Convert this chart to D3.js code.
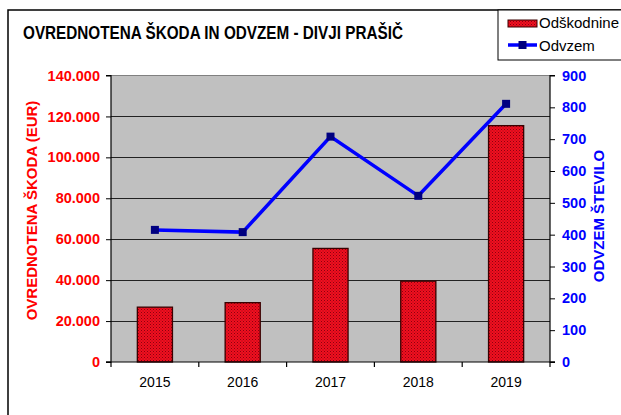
<!DOCTYPE html>
<html><head><meta charset="utf-8">
<script src="https://cdn.jsdelivr.net/npm/d3@7"></script>
<style>html,body{margin:0;padding:0;background:#fff;}svg{display:block;}</style>
</head><body>
<script>
const years = ["2015","2016","2017","2018","2019"];
const odskodnine = [26800, 29000, 55500, 39500, 115500];
const odvzem = [415, 408, 708, 522, 811];
const leftTicks = [0,20000,40000,60000,80000,100000,120000,140000];
const rightTicks = [0,100,200,300,400,500,600,700,800,900];
const title = "OVREDNOTENA ŠKODA IN ODVZEM - DIVJI PRAŠIČ";
const leftTitle = "OVREDNOTENA ŠKODA (EUR)";
const rightTitle = "ODVZEM ŠTEVILO";
const legendLabels = ["Odškodnine","Odvzem"];

const W=621,H=415;
const font="'Liberation Sans', Arial, sans-serif";
const svg=d3.select("body").append("svg").attr("width",W).attr("height",H);

const defs=svg.append("defs");
const pat=defs.append("pattern").attr("id","dots").attr("patternUnits","userSpaceOnUse").attr("width",3).attr("height",3);
pat.append("rect").attr("width",3).attr("height",3).attr("fill","#f0101e");
pat.append("rect").attr("x",0).attr("y",0).attr("width",1).attr("height",1).attr("fill","#8a0010");
pat.append("rect").attr("x",1.5).attr("y",1.5).attr("width",1).attr("height",1).attr("fill","#a00018");

// outer frame
svg.append("rect").attr("x",8).attr("y",10).attr("width",700).attr("height",500)
  .attr("fill","#fff").attr("stroke","#000").attr("stroke-width",1.5);

const L=111,R=550,T=75.5,B=362;
const x=d3.scaleBand().domain(years).range([L,R]).padding(0);
const yL=d3.scaleLinear().domain([0,140000]).range([B,T]);
const yR=d3.scaleLinear().domain([0,900]).range([B,T]);

svg.append("rect").attr("x",L).attr("y",T).attr("width",R-L).attr("height",B-T).attr("fill","#c0c0c0");

// gridlines
svg.append("g").selectAll("line").data(leftTicks.filter(v=>v>0&&v<140000)).join("line")
  .attr("x1",L).attr("x2",R).attr("y1",d=>Math.round(yL(d))+0.5).attr("y2",d=>Math.round(yL(d))+0.5)
  .attr("stroke","#222").attr("stroke-width",1);
svg.append("line").attr("x1",L).attr("x2",R).attr("y1",T).attr("y2",T).attr("stroke","#808080").attr("stroke-width",1);

// bars
const bw=x.bandwidth();
svg.append("g").selectAll("rect").data(years).join("rect")
  .attr("x",(d)=>x(d)+bw*0.3).attr("width",bw*0.4)
  .attr("y",(d,i)=>yL(odskodnine[i])).attr("height",(d,i)=>B-yL(odskodnine[i]))
  .attr("fill","url(#dots)").attr("stroke","#3a0000").attr("stroke-width",1.3);

// axes
const axL=svg.append("g").attr("transform",`translate(${L},0)`)
  .call(d3.axisLeft(yL).tickValues(leftTicks).tickSize(5).tickPadding(6)
  .tickFormat(d=>d3.format(",")(d).replace(/,/g,".")));
axL.select(".domain").attr("stroke","#000").attr("stroke-width",1.2).attr("d",`M-5,${T}H0V${B}H-5`);
axL.selectAll("text").attr("fill","#ff0000").attr("font-family",font).attr("font-weight","bold").attr("font-size",14.5);

const axR=svg.append("g").attr("transform",`translate(${R},0)`)
  .call(d3.axisRight(yR).tickValues(rightTicks).tickSize(5).tickPadding(7));
axR.select(".domain").attr("stroke","#000").attr("stroke-width",1.2).attr("d",`M5,${T}H0V${B}H5`);
axR.selectAll("text").attr("fill","#0000ff").attr("font-family",font).attr("font-weight","bold").attr("font-size",14.5);

const axB=svg.append("g").attr("transform",`translate(0,${B})`)
  .call(d3.axisBottom(x).tickSize(0).tickPadding(15));
axB.select(".domain").remove();
axB.selectAll("text").attr("fill","#000").attr("font-family",font).attr("font-size",14);
svg.append("line").attr("x1",L-5).attr("x2",R+5).attr("y1",B).attr("y2",B).attr("stroke","#000").attr("stroke-width",1.2);
svg.append("g").selectAll("line").data(years.concat(["end"])).join("line")
  .attr("x1",d=>d==="end"?R:x(d)).attr("x2",d=>d==="end"?R:x(d))
  .attr("y1",B).attr("y2",B+5).attr("stroke","#000").attr("stroke-width",1.2);

// line
const line=d3.line().x((d,i)=>x(years[i])+bw/2).y(d=>yR(d));
svg.append("path").datum(odvzem).attr("d",line).attr("fill","none").attr("stroke","#0000ff").attr("stroke-width",3.5).attr("stroke-linejoin","miter");
svg.append("g").selectAll("rect").data(odvzem).join("rect")
  .attr("x",(d,i)=>x(years[i])+bw/2-4).attr("y",d=>yR(d)-4).attr("width",8).attr("height",8).attr("fill","#000080");

// titles
svg.append("text").attr("x",23).attr("y",39).attr("font-family",font).attr("font-weight","bold")
  .attr("font-size",18).attr("textLength",380).attr("lengthAdjust","spacingAndGlyphs").attr("fill","#000").text(title);
svg.append("text").attr("transform","translate(37,210.5) rotate(-90)").attr("text-anchor","middle")
  .attr("font-family",font).attr("font-weight","bold").attr("font-size",15).attr("fill","#ff0000").text(leftTitle);
svg.append("text").attr("transform","translate(604,216) rotate(-90)").attr("text-anchor","middle")
  .attr("font-family",font).attr("font-weight","bold").attr("font-size",15).attr("fill","#0000ff").text(rightTitle);

// legend
const lg=svg.append("g");
lg.append("rect").attr("x",498).attr("y",10).attr("width",140).attr("height",50).attr("fill","#fff").attr("stroke","#000").attr("stroke-width",1);
lg.append("rect").attr("x",508).attr("y",20).attr("width",29).attr("height",7).attr("fill","url(#dots)").attr("stroke","#3a0000").attr("stroke-width",1);
lg.append("text").attr("x",539).attr("y",28).attr("font-family",font).attr("font-size",15).attr("fill","#000").text(legendLabels[0]);
lg.append("line").attr("x1",508).attr("x2",537).attr("y1",45).attr("y2",45).attr("stroke","#0000ff").attr("stroke-width",3.5);
lg.append("rect").attr("x",518.5).attr("y",41).attr("width",8).attr("height",8).attr("fill","#000080");
lg.append("text").attr("x",539).attr("y",51).attr("font-family",font).attr("font-size",15).attr("fill","#000").text(legendLabels[1]);
</script>
</body></html>
